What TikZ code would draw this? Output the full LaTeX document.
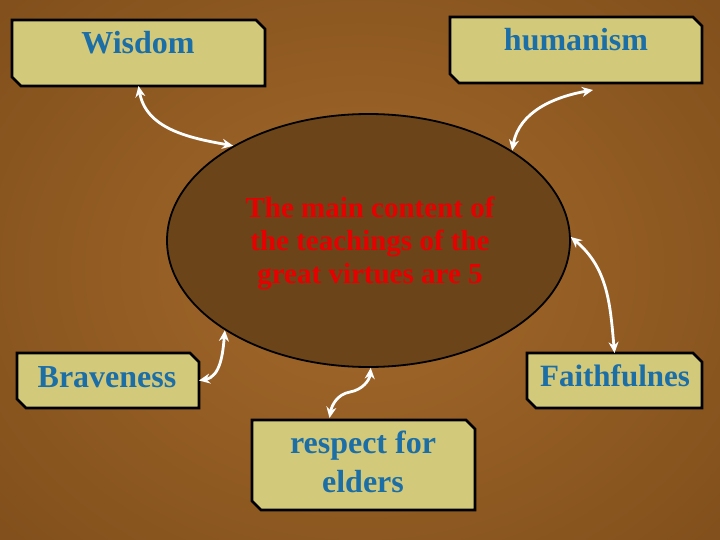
\documentclass[tikz,border=0pt]{standalone}
\usepackage{fontspec}
\setmainfont{Liberation Serif}
\usetikzlibrary{shapes.geometric,arrows.meta,calc}
\definecolor{bgmid}{HTML}{A4692B}
\definecolor{bgout}{HTML}{82501C}
\definecolor{boxfill}{HTML}{D3C97A}
\definecolor{ellfill}{HTML}{6B4419}
\definecolor{labblue}{HTML}{1C6EA6}
\definecolor{txtred}{HTML}{E60000}
\tikzset{
  vbox/.style={rectangle, inner sep=0pt, outer sep=0pt},
  boxline/.style={draw=black, line width=2.6pt, fill=boxfill, line join=miter},
  vlabel/.style={text=labblue, font=\bfseries\fontsize{32}{39}\selectfont, align=center, inner sep=0pt},
  link/.style={draw=white, line width=2.8pt, {Stealth[length=11pt,width=10pt]}-{Stealth[length=11pt,width=10pt]}}
}
\newcommand{\chambox}[1]{%
  \path[boxline] (#1.north west) -- ($(#1.north east)+(-9,0)$) -- ($(#1.north east)+(0,9)$)
    -- (#1.south east) -- ($(#1.south west)+(9,0)$) -- ($(#1.south west)+(0,-9)$) -- cycle;}
\begin{document}
\begin{tikzpicture}[x=1pt,y=-1pt]
\useasboundingbox (0,0) rectangle (720,540);
\shade[inner color=bgmid, outer color=bgout] (-120,-120) rectangle (840,660);
% central ellipse
\node (ell) [ellipse, draw=black, line width=1.8pt, fill=ellfill,
  minimum width=403pt, minimum height=253pt, inner sep=0pt] at (368.5,240.5) {};
\node (etext) [text=txtred, font=\bfseries\fontsize{29}{33}\selectfont, align=center, inner sep=0pt]
  at (370,243) {The main content of\\the teachings of the\\great virtues are 5};
% boxes
\node (wbox) [vbox, minimum width=253pt, minimum height=66pt] at (138.5,53) {};
\chambox{wbox}
\node (wtext) [vlabel] at (138,43) {Wisdom};
\node (hbox) [vbox, minimum width=252pt, minimum height=66pt] at (576,50) {};
\chambox{hbox}
\node (htext) [vlabel] at (576,40) {humanism};
\node (bbox) [vbox, minimum width=182pt, minimum height=55pt] at (108,380.5) {};
\chambox{bbox}
\node (btext) [vlabel] at (107,377) {Braveness};
\node (fbox) [vbox, minimum width=175pt, minimum height=55pt] at (614.5,380.5) {};
\chambox{fbox}
\node (ftext) [vlabel, font=\bfseries\fontsize{31}{39}\selectfont] at (615,376) {Faithfulnes};
\node (rbox) [vbox, minimum width=223pt, minimum height=90pt] at (363.5,465) {};
\chambox{rbox}
\node (rtext) [vlabel] at (363,462) {respect for\\elders};
% connectors
\coordinate (hend) at ($(hbox.south)+(17,7)$);
\coordinate (rend) at ($(rbox.north)+(-34,-2)$);
\draw[link] (wbox.south) to[out=-80,in=170] (ell.145.5);
\draw[link] (ell.32.6) to[out=80,in=190] (hend);
\draw[link] (ell.1) to[out=-40,in=95] (fbox.north);
\draw[link] (bbox.east) to[out=10,in=-95] (ell.212.9);
\draw[link] (rend) to[out=80,in=190] (350,392) to[out=10,in=-95] (ell.-89.3);
\end{tikzpicture}
\end{document}
